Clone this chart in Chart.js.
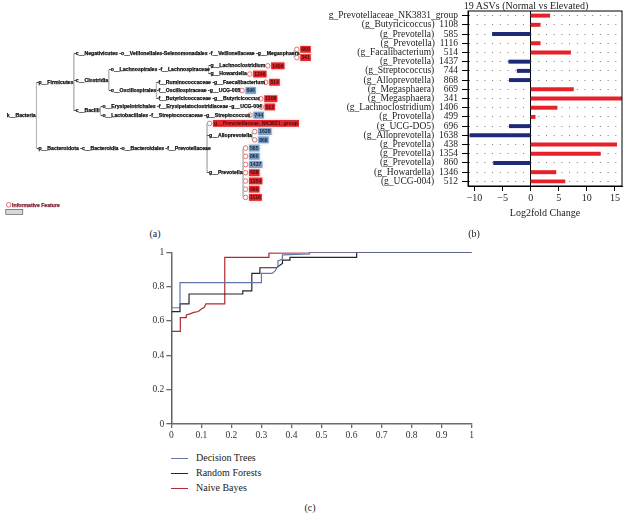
<!DOCTYPE html>
<html>
<head>
<meta charset="utf-8">
<script src="https://cdn.jsdelivr.net/npm/chart.js@4.4.1/dist/chart.umd.min.js"></script>
<style>
  body { margin: 0; background: #fff; width: 625px; height: 514px; position: relative; overflow: hidden; font-family: "Liberation Serif", serif; color: #222; }
  .panel { position: absolute; }
  .cap { position: absolute; font-size: 10px; transform: translate(-50%, -50%); white-space: nowrap; }
  #rocLegend { position: absolute; left: 171px; top: 450px; font-size: 10px; }
  #rocLegend div { height: 15px; line-height: 15px; white-space: nowrap; }
  #rocLegend span.ln { display: inline-block; width: 17px; height: 0; border-top: 1.2px solid; vertical-align: middle; margin-right: 8px; }
</style>
</head>
<body>
<div class="panel" style="left:0;top:0;width:320px;height:225px"><canvas id="tree"></canvas></div>
<div class="panel" style="left:300px;top:0;width:325px;height:226px"><canvas id="bars"></canvas></div>
<div class="panel" style="left:130px;top:240px;width:360px;height:200px"><canvas id="roc"></canvas></div>
<div class="cap" style="left:526px;top:5px">19 ASVs (Normal vs Elevated)</div>
<div class="cap" style="left:155px;top:233px">(a)</div>
<div class="cap" style="left:474px;top:233px">(b)</div>
<div class="cap" style="left:310px;top:507px">(c)</div>
<div id="rocLegend"></div>

<script>
// ---- (a) cladogram ----
const treeLabels = [
  "k__Bacteria",
  "p__Firmicutes",
  "c__Negativicutes -o__Veillonellales-Selenomonadales -f__Veillonellaceae -g__Megasphaera",
  "c__Clostridia",
  "o__Lachnospirales -f__Lachnospiraceae",
  "g__Lachnoclostridium",
  "g__Howardella",
  "o__Oscillospirales",
  "f__Ruminococcaceae -g__Faecalibacterium",
  "f__Oscillospiraceae -g__UCG-005",
  "f__Butyricicoccaceae -g__Butyricicoccus",
  "c__Bacilli",
  "o__Erysipelotrichales -f__Erysipelatoclostridiaceae -g__UCG-004",
  "o__Lactobacillales -f__Streptococcaceae -g__Streptococcus",
  "p__Bacteroidota -c__Bacteroidia -o__Bacteroidales -f__Prevotellaceae",
  "g__Alloprevotella",
  "g__Prevotella"
];
const treeParents = [-1, 0, 1, 1, 3, 4, 4, 3, 7, 7, 7, 1, 11, 11, 0, 14, 14];

const leafIds = ["669", "341", "1406", "1346", "514", "696", "1108", "512", "744",
  "g__Prevotellaceae_NK3831_group", "1638", "868", "585", "860", "1437", "438", "1354", "499", "1116"];
const leafParents = [2, 2, 5, 6, 8, 9, 10, 12, 13, 14, 15, 15, 16, 16, 16, 16, 16, 16, 16];
const leafUp = [1, 1, 1, 1, 1, 0, 1, 1, 0, 1, 0, 0, 0, 0, 0, 1, 1, 1, 1];

// ---- (b) log2 fold change ----
const asvNames = ["g_Prevotellaceae_NK3831_group", "(g_Butyricicoccus)", "(g_Prevotella)", "(g_Prevotella)",
  "(g_Facalibacterium)", "(g_Prevotella)", "(g_Streptococcus)", "(g_Alloprevotella)", "(g_Megasphaera)",
  "(g_Megasphaera)", "(g_Lachnoclostridium)", "(g_Provotella)", "(g_UCG-DO5)", "(g_Alloprevotella)",
  "(g_Prevotella)", "(g_Prevotella)", "(g_Prevotella)", "(g_Howardella)", "(g_UCG-004)"];
const asvIds = ["", "1108", "585", "1116", "514", "1437", "744", "868", "669", "341", "1406", "499",
  "696", "1638", "438", "1354", "860", "1346", "512"];
const log2fc = [3.4, 1.7, -6.8, 1.7, 7.1, -3.9, -2.4, -3.8, 7.6, 16.2, 4.7, 0.8, -3.8, -10.8, 15.3, 12.4, -6.6, 4.5, 6.1];

// ---- (c) ROC curves ----
const dtFpr = [0, 0, 0.029, 0.029, 0.30, 0.30, 0.335, 0.345, 0.355, 0.355, 0.37, 0.37, 0.46, 0.46, 1];
const dtTpr = [0, 0.677, 0.677, 0.823, 0.823, 0.877, 0.877, 0.89, 0.92, 0.95, 0.96, 0.985, 0.99, 1, 1];
const rfFpr = [0, 0, 0.029, 0.029, 0.059, 0.059, 0.238, 0.238, 0.268, 0.268, 0.295, 0.295, 0.35, 0.37, 0.37, 0.395, 0.395, 0.617, 0.617, 1];
const rfTpr = [0, 0.655, 0.655, 0.70, 0.70, 0.757, 0.757, 0.775, 0.775, 0.877, 0.877, 0.91, 0.91, 0.935, 0.955, 0.955, 0.97, 0.97, 1, 1];
const nbFpr = [0, 0, 0.03, 0.03, 0.05, 0.05, 0.06, 0.075, 0.09, 0.10, 0.11, 0.115, 0.178, 0.178, 0.325, 0.325, 0.46, 0.46, 1];
const nbTpr = [0, 0.54, 0.54, 0.62, 0.62, 0.635, 0.64, 0.65, 0.655, 0.67, 0.68, 0.70, 0.70, 0.97, 0.97, 0.995, 0.997, 1, 1];

const serif = "'Liberation Serif', serif";
const RED = "#e8202a", NAVY = "#1d2a78";

// tree layout: x from label widths, y from leaf order
const treeFont = "bold 5.15px 'Liberation Sans', sans-serif";
const LEAF_TOP = 46.5, LEAF_STEP = 8.6, ROOT_X = 2, GAP = 2, R = 2.3;
const mctx = document.createElement("canvas").getContext("2d");
mctx.font = treeFont;
const tw = s => mctx.measureText(s).width;

const nodeText = treeLabels.map((s, i) => treeParents[i] < 0 ? s : "-" + s);
const nodeX = [], nodeY = [];
treeLabels.forEach((_, i) => {
  const p = treeParents[i];
  nodeX[i] = p < 0 ? ROOT_X : nodeX[p] + tw(nodeText[p]) + GAP;
});
const leafY = leafIds.map((_, i) => LEAF_TOP + i * LEAF_STEP);
const leafX = leafParents.map(p => nodeX[p] + tw(nodeText[p]) + GAP + R);
const childYs = treeLabels.map(() => []);
leafParents.forEach((p, i) => childYs[p].push(leafY[i]));
for (let i = treeLabels.length - 1; i >= 0; i--) {
  const ys = childYs[i];
  nodeY[i] = (Math.min(...ys) + Math.max(...ys)) / 2;
  if (treeParents[i] >= 0) childYs[treeParents[i]].push(nodeY[i]);
}
const BREAK = { x: null, y: null };
const edges = [];
treeLabels.forEach((_, i) => {
  const ys = childYs[i];
  if (ys.length < 2) return;
  const xv = nodeX[i] + tw(nodeText[i]) + GAP - 0.3;
  edges.push({ x: xv, y: Math.min(...ys) }, { x: xv, y: Math.max(...ys) }, BREAK);
  leafParents.forEach((p, j) => {
    if (p === i) edges.push({ x: xv, y: leafY[j] }, { x: leafX[j] - R, y: leafY[j] }, BREAK);
  });
});

const treeTextPlugin = {
  id: "treeText",
  afterDatasetsDraw(chart) {
    const { ctx, scales: { x, y } } = chart;
    ctx.save();
    ctx.font = treeFont;
    ctx.textBaseline = "middle";
    ctx.lineWidth = 0.25;
    nodeText.forEach((t, i) => {
      const px = x.getPixelForValue(nodeX[i]), py = y.getPixelForValue(nodeY[i]);
      ctx.fillStyle = ctx.strokeStyle = "#111";
      ctx.fillText(t, px, py);
      ctx.strokeText(t, px, py);
    });
    leafIds.forEach((id, i) => {
      const bx = x.getPixelForValue(leafX[i] + R + 1.2), by = y.getPixelForValue(leafY[i]);
      const w = tw(id) + 2;
      ctx.shadowColor = leafUp[i] ? "rgba(240,150,150,0.6)" : "rgba(140,200,230,0.7)";
      ctx.shadowBlur = 3;
      ctx.fillStyle = leafUp[i] ? "#e3262b" : "#7d9ec4";
      ctx.fillRect(bx, by - 3.4, w, 6.8);
      ctx.shadowBlur = 0;
      ctx.fillStyle = leafUp[i] ? "#4a0b0b" : "#14233f";
      ctx.fillText(id, bx + 1, by + 0.3);
    });
    // "Informative Feature" key
    const kx = x.getPixelForValue(4), ky = y.getPixelForValue(209);
    ctx.beginPath();
    ctx.arc(kx, ky, R, 0, Math.PI * 2);
    ctx.strokeStyle = "#e06060";
    ctx.lineWidth = 0.9;
    ctx.stroke();
    ctx.fillStyle = ctx.strokeStyle = "#7a1a2a";
    ctx.lineWidth = 0.25;
    ctx.fillText("Informative Feature", kx + R + 1, ky + 0.3);
    ctx.strokeText("Informative Feature", kx + R + 1, ky + 0.3);
    ctx.fillStyle = "#d8d8d8";
    ctx.fillRect(kx - 3, ky + 4.5, 17, 5);
    ctx.strokeStyle = "#444";
    ctx.lineWidth = 0.6;
    ctx.strokeRect(kx - 3, ky + 4.5, 17, 5);
    ctx.restore();
  }
};

new Chart(document.getElementById("tree"), {
  type: "scatter",
  data: {
    datasets: [
      { type: "line", data: edges, borderColor: "#b8b8b8", borderWidth: 0.8, pointRadius: 0, spanGaps: false },
      { data: leafX.map((lx, i) => ({ x: lx, y: leafY[i] })), pointRadius: R, borderWidth: 0.9,
        borderColor: "#e06060", backgroundColor: "#fff" }
    ]
  },
  options: {
    responsive: true, maintainAspectRatio: false, animation: false,
    plugins: { legend: { display: false }, tooltip: { enabled: false } },
    scales: {
      x: { type: "linear", min: 0, max: 320, display: false },
      y: { type: "linear", min: 0, max: 225, reverse: true, display: false }
    }
  },
  plugins: [treeTextPlugin]
});

// bar panel
const boxPlugin = {
  id: "plotBox",
  afterDraw(chart) {
    const { ctx, chartArea: a } = chart;
    ctx.save();
    ctx.strokeStyle = "#000";
    ctx.lineWidth = 1;
    ctx.strokeRect(a.left, a.top, a.right - a.left, a.bottom - a.top);
    ctx.restore();
  }
};
const barLabels = asvNames.map((n, i) => asvIds[i] ? n + "  " + asvIds[i].padStart(4, "\u2007") : n);

new Chart(document.getElementById("bars"), {
  type: "bar",
  data: {
    labels: barLabels,
    datasets: [{ data: log2fc, backgroundColor: log2fc.map(v => v >= 0 ? RED : NAVY), barThickness: 3.3 }]
  },
  options: {
    indexAxis: "y",
    responsive: true, maintainAspectRatio: false, animation: false,
    layout: { padding: { top: 11, right: 3, left: 0, bottom: 0 } },
    plugins: { legend: { display: false }, tooltip: { enabled: false } },
    scales: {
      x: {
        type: "linear", min: -11.15, max: 16.25,
        ticks: { stepSize: 5, includeBounds: false, color: "#222", padding: 1,
          font: { family: serif, size: 10 }, callback: v => String(v).replace("-", "\u2212") },
        grid: { color: c => c.tick && c.tick.value === 0 ? "#000" : "rgba(0,0,0,0)", tickColor: "#000", tickLength: 5 },
        border: { color: "#000" },
        title: { display: true, text: "Log2fold Change", color: "#222", font: { family: serif, size: 10 }, padding: { top: 2, bottom: 7 } },
        afterFit: s => { s.height = 40; }
      },
      y: {
        ticks: { autoSkip: false, color: "#222", padding: 4, font: { family: serif, size: 9.5 } },
        grid: { offset: false, color: "#777", tickColor: "#000", tickLength: 6 },
        border: { color: "#000", dash: [1, 6.7] },
        afterFit: s => { s.width = 168; }
      }
    }
  },
  plugins: [boxPlugin]
});

// ROC panel
const pts = (xs, ys) => xs.map((v, i) => ({ x: v, y: ys[i] }));
const rocSets = [
  { label: "Decision Trees", data: pts(dtFpr, dtTpr), borderColor: "#6475a8" },
  { label: "Random Forests", data: pts(rfFpr, rfTpr), borderColor: "#262626" },
  { label: "Naive Bayes", data: pts(nbFpr, nbTpr), borderColor: "#b02a30" }
];
const axisGrey = "#6a6a6a";
const roc = new Chart(document.getElementById("roc"), {
  type: "line",
  data: { datasets: rocSets },
  options: {
    responsive: true, maintainAspectRatio: false, animation: false,
    layout: { padding: { top: 12.3, right: 18.3, bottom: 0, left: 0 } },
    plugins: { legend: { display: false }, tooltip: { enabled: false } },
    elements: { point: { radius: 0 }, line: { borderWidth: 1.2, tension: 0 } },
    scales: {
      x: {
        type: "linear", min: 0, max: 1,
        ticks: { stepSize: 0.1, color: "#333", padding: 2, font: { family: serif, size: 9.5 },
          callback: v => String(Math.round(v * 10) / 10) },
        grid: { drawOnChartArea: false, color: axisGrey, tickLength: 4, lineWidth: 1.3 },
        border: { color: axisGrey, width: 1.5 },
        afterFit: s => { s.height = 16; }
      },
      y: {
        type: "linear", min: 0, max: 1,
        ticks: { stepSize: 0.2, color: "#333", padding: 2, font: { family: serif, size: 9.5 },
          callback: v => String(Math.round(v * 10) / 10) },
        grid: { drawOnChartArea: false, color: axisGrey, tickLength: 5, lineWidth: 1.3 },
        border: { color: axisGrey, width: 1.5 },
        afterFit: s => { s.width = 41.3; }
      }
    }
  }
});

document.getElementById("rocLegend").innerHTML = roc.data.datasets
  .map(d => `<div><span class="ln" style="border-color:${d.borderColor}"></span>${d.label}</div>`)
  .join("");
</script>
</body>
</html>
